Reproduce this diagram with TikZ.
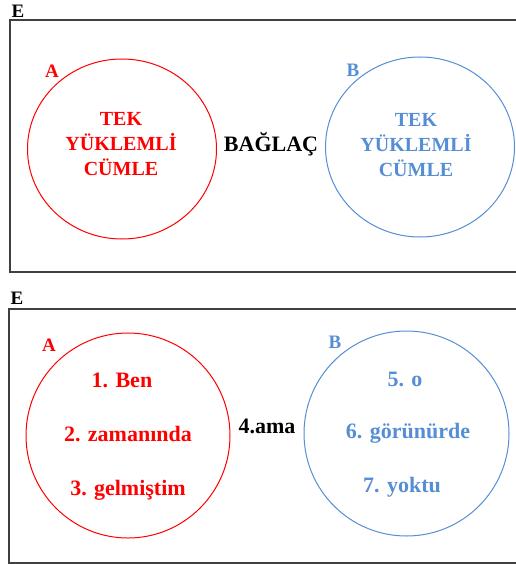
\documentclass[tikz,border=0pt]{standalone}
\usepackage{fontspec}
\setmainfont{Liberation Serif}
\usetikzlibrary{shapes.geometric}
\definecolor{myred}{RGB}{255,0,0}
\definecolor{myblue}{RGB}{85,142,213}
\definecolor{boxgray}{RGB}{64,64,64}
\begin{document}
\begin{tikzpicture}[x=1pt,y=-1pt,
  panel/.style={draw=boxgray, line width=1.5pt},
  ring/.style={ellipse, inner sep=0pt, line width=1pt},
  redring/.style={ring, draw=myred},
  bluering/.style={ring, draw=myblue},
  lbl/.style={inner sep=0pt, font=\bfseries\fontsize{19}{23}\selectfont},
  redtxt/.style={inner sep=0pt, text=myred, align=center, font=\bfseries\fontsize{20}{25}\selectfont},
  bluetxt/.style={inner sep=0pt, text=myblue, align=center, font=\bfseries\fontsize{20}{25}\selectfont},
  itemred/.style={inner sep=0pt, text=myred, font=\bfseries\fontsize{22}{26}\selectfont},
  itemblue/.style={inner sep=0pt, text=myblue, font=\bfseries\fontsize{22}{26}\selectfont},
  conj/.style={inner sep=0pt, font=\bfseries\fontsize{22}{26}\selectfont}]
\useasboundingbox (0,0) rectangle (515,564);
% top panel
\node[lbl] (e1) at (18,11) {E};
\draw[panel] (10,20) rectangle (518,272);
\node[redring, minimum width=189pt, minimum height=180pt] (ca) at (122,149) {};
\node[bluering, minimum width=189pt, minimum height=180pt] (cb) at (420,147) {};
\node[lbl, text=myred] (la) at (52,71) {A};
\node[lbl, text=myblue] (lb) at (353,70) {B};
\node[redtxt] (ta) at (121,144) {TEK\\YÜKLEMLİ\\CÜMLE};
\node[bluetxt] (tb) at (416,145) {TEK\\YÜKLEMLİ\\CÜMLE};
\node[conj] (bag) at (271,144) {BAĞLAÇ};
% bottom panel
\node[lbl] (e2) at (17,298) {E};
\draw[panel] (9,309) rectangle (518,563);
\node[redring, minimum width=204pt, minimum height=205pt] (ca2) at (128,435.5) {};
\node[bluering, minimum width=205pt, minimum height=205pt] (cb2) at (406.5,433.5) {};
\node[lbl, text=myred] (la2) at (49,345) {A};
\node[lbl, text=myblue] (lb2) at (335,342) {B};
\node[itemred] (r1) at (122,380) {1. Ben};
\node[itemred] (r2) at (128,434) {2. zamanında};
\node[itemred] (r3) at (128,490) {3. gelmiştim};
\node[itemblue] (b1) at (405,379) {5. o};
\node[itemblue] (b2) at (408,433) {6. görünürde};
\node[itemblue] (b3) at (402,487) {7. yoktu};
\node[conj] (ama) at (267,426) {4.ama};
\end{tikzpicture}
\end{document}
